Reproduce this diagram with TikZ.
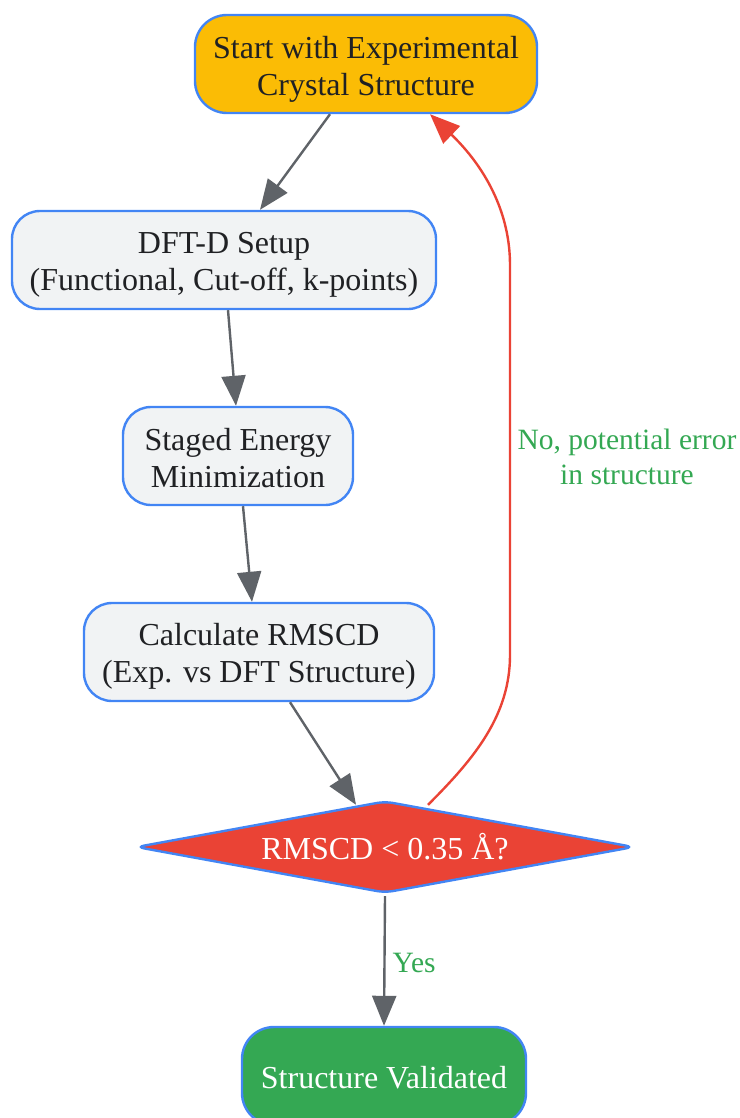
\documentclass[tikz,border=0pt]{standalone}
\usepackage{fontspec}
\setmainfont{Liberation Serif}
\usetikzlibrary{arrows.meta,shapes.geometric}
\definecolor{cyellow}{HTML}{FBBC05}
\definecolor{cgray}{HTML}{F1F3F4}
\definecolor{cblue}{HTML}{4285F4}
\definecolor{cedge}{HTML}{5F6368}
\definecolor{cred}{HTML}{EA4335}
\definecolor{cgreen}{HTML}{34A853}
\definecolor{ctext}{HTML}{202124}
\newcommand{\lowtxt}[2][4pt]{\raisebox{-#1}[\height][\depth]{\begin{tabular}{@{}c@{}}#2\end{tabular}}}
\tikzset{
  box/.style={draw=cblue, line width=2.4pt, rounded corners=28pt,
    minimum height=98pt, inner sep=0pt, font=\fontsize{32}{37}\selectfont, text=ctext},
  graybox/.style={box, fill=cgray},
  edge/.style={draw=cedge, line width=2.4pt, -{Triangle[length=30pt,width=24pt]}},
  redge/.style={draw=cred, line width=2.4pt, -{Triangle[length=30pt,width=24pt]}},
  lbl/.style={text=cgreen, align=center, font=\fontsize{29.5}{35}\selectfont, inner sep=0pt}
}
\begin{document}
\begin{tikzpicture}[x=1pt,y=-1pt]
\useasboundingbox (0,0) rectangle (739,1118);
\node[box, fill=cyellow, minimum width=342pt, rounded corners=32pt] (start) at (366,64) {\lowtxt[6pt]{Start with Experimental\\Crystal Structure}};
\node[graybox, minimum width=424pt] (dft) at (224,260) {\lowtxt[5pt]{DFT-D Setup\\(Functional, Cut-off, k-points)}};
\node[graybox, minimum width=230pt] (stage) at (238,456) {\lowtxt[6pt]{Staged Energy\\Minimization}};
\node[graybox, minimum width=350pt] (calc) at (259,652) {\lowtxt[5pt]{Calculate RMSCD\\(Exp. vs DFT Structure)}};
\node[diamond, draw=cblue, fill=cred, line width=2.4pt, rounded corners=8pt, inner sep=0pt,
  minimum width=498pt, minimum height=92pt, aspect=5.4, text=white,
  font=\fontsize{32}{37}\selectfont] (dia) at (385,847) {RMSCD < 0.35 Å?};
\node[box, fill=cgreen, text=white, minimum width=284pt, rounded corners=32pt] (valid) at (384,1076) {\lowtxt[5pt]{Structure Validated}};

\draw[edge] ([xshift=-36pt]start.south) -- ([xshift=36pt]dft.north);
\draw[edge] ([xshift=4pt]dft.south) -- ([xshift=-2pt]stage.north);
\draw[edge] ([xshift=5pt]stage.south) -- ([xshift=-7pt]calc.north);
\draw[edge] ([xshift=31pt]calc.south) -- ([xshift=-29pt,yshift=-5pt]dia.north);
\draw[edge] ([yshift=-2pt]dia.south) -- node[lbl, right=7pt, yshift=-2pt] (yes) {Yes} (valid.north);
\draw[redge] ([xshift=43pt,yshift=-5pt]dia.north) .. controls (475,758) and (510,715) .. (510,655)
  -- (510,265) .. controls (510,205) and (478,160) .. ([xshift=64pt]start.south);
\node[lbl] (nolbl) at (627,457) {No, potential error\\in structure};
\end{tikzpicture}
\end{document}
